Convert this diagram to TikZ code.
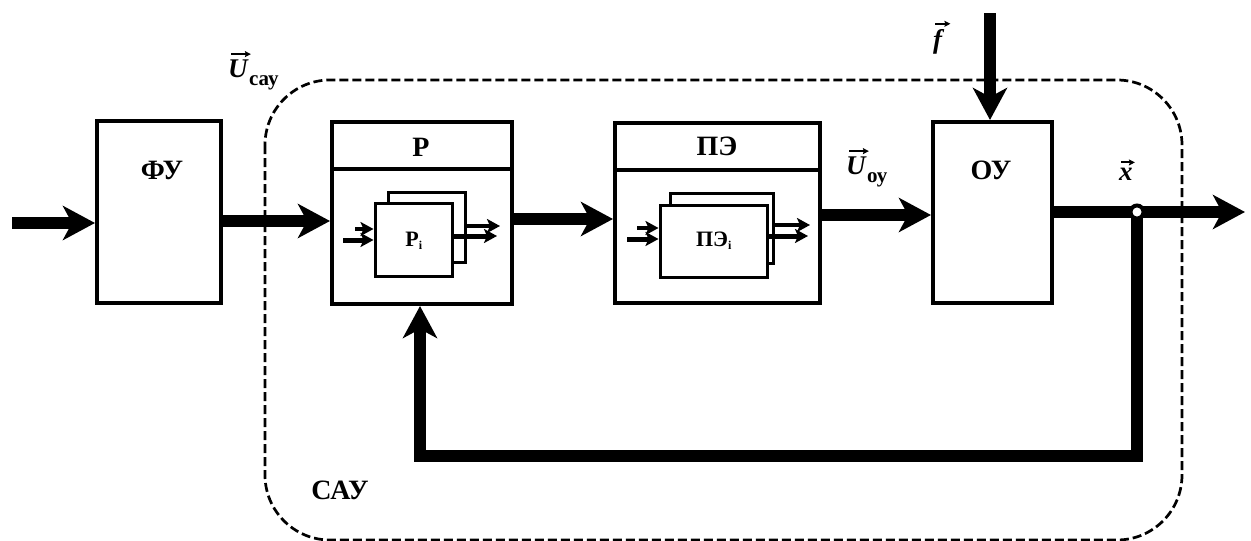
\documentclass[tikz,border=0pt]{standalone}
\usepackage{fontspec}
\setmainfont{Liberation Serif}
\usetikzlibrary{arrows.meta}
\begin{document}
\begin{tikzpicture}[x=1pt,y=-1pt,
  blk/.style={draw, line width=4pt, fill=white, inner sep=0pt},
  inblk/.style={draw, line width=3pt, fill=white, inner sep=0pt},
  thk/.style={line width=12pt, -{Stealth[length=32pt,width=34pt,inset=9pt]}},
  smarrow/.style={line width=5pt, -{Stealth[length=13pt,width=14pt,inset=3pt]}},
  vecarrow/.style={line width=2pt, -{Stealth[length=6pt,width=6pt,inset=1pt]}},
  frame/.style={line width=2.7pt, dash pattern=on 9pt off 4pt, rounded corners=65pt},
  lbl/.style={font=\fontsize{28}{30}\selectfont\bfseries, inner sep=0pt},
  slbl/.style={font=\fontsize{22}{24}\selectfont\bfseries, inner sep=0pt},
  vlbl/.style={font=\fontsize{27}{30}\selectfont\bfseries\itshape, inner sep=0pt},
  sublbl/.style={font=\fontsize{21}{23}\selectfont\bfseries, inner sep=0pt}]
\useasboundingbox (0,0) rectangle (1251,541);
% system boundary
\draw[frame] (265,80) rectangle (1182,540);
% blocks
\node[blk, minimum width=124pt, minimum height=182pt] (fu) at (159,212) {};
\node[blk, minimum width=180pt, minimum height=182pt] (r) at (422,213) {};
\node[blk, minimum width=205pt, minimum height=180pt] (pe) at (717.5,213) {};
\node[blk, minimum width=119pt, minimum height=181pt] (ou) at (992.5,212.5) {};
\draw[line width=4pt] (r.west |- 0,169) -- (r.east |- 0,169);
\draw[line width=4pt] (pe.west |- 0,170) -- (pe.east |- 0,170);
% inner blocks
\node[inblk, minimum width=77pt, minimum height=70pt] (riback) at (426.5,227) {};
\node[inblk, minimum width=77pt, minimum height=73pt] (ri) at (413.5,239.5) {};
\node[inblk, minimum width=103pt, minimum height=70pt] (peiback) at (721.5,228) {};
\node[inblk, minimum width=107pt, minimum height=72pt] (pei) at (713.5,241) {};
% small arrows
\coordinate (ria) at (343,240);
\coordinate (rib) at (355,229);
\draw[smarrow] (ria) -- (ri.west |- ria);
\draw[smarrow, line width=4pt] (rib) -- (ri.west |- rib);
\coordinate (rio) at (497,236);
\coordinate (riob) at (500,226);
\draw[smarrow] (ri.east |- rio) -- (rio);
\draw[smarrow, line width=4pt] (riback.east |- riob) -- (riob);
\coordinate (pea) at (627,239);
\coordinate (peb) at (637,228);
\draw[smarrow] (pea) -- (pei.west |- pea);
\draw[smarrow, line width=4pt] (peb) -- (pei.west |- peb);
\coordinate (peo) at (808,236);
\coordinate (peob) at (810,225);
\draw[smarrow] (pei.east |- peo) -- (peo);
\draw[smarrow, line width=4pt] (peiback.east |- peob) -- (peob);
% texts in blocks
\node[lbl] (tfu) at (162,170) {ФУ};
\node[lbl] (tr) at (421,147) {Р};
\node[lbl] (tpe) at (717,146) {ПЭ};
\node[lbl] (tou) at (991,170) {ОУ};
\node[slbl] (tri) at (414,241) {Р\textsubscript{\fontsize{12}{12}\selectfont i}};
\node[slbl] (tpei) at (714,241) {ПЭ\textsubscript{\fontsize{12}{12}\selectfont i}};
% main arrows
\coordinate (in) at (12,223);
\draw[thk] (in) -- (fu.west |- in);
\draw[thk] (fu.east |- 0,221) -- (r.west |- 0,221);
\draw[thk] (r.east |- 0,219) -- (pe.west |- 0,219);
\draw[thk] (pe.east |- 0,215) -- (ou.west |- 0,215);
\coordinate (ftop) at (990,13);
\draw[thk] (ftop) -- (ou.north -| ftop);
\coordinate (out) at (1245,212);
\coordinate (jc) at (1137,212);
\coordinate (fbc) at (420,456);
\draw[thk] (ou.east |- out) -- (out);
\draw[thk, line join=miter] (jc) |- (fbc) -- (r.south -| fbc);
\node[circle, draw, fill=white, line width=4pt, minimum size=13pt, inner sep=0pt] (jn) at (jc) {};
% vector labels
\node[vlbl, anchor=base west] (lu1) at (228,77) {U};
\node[sublbl, anchor=base west] (lu1s) at ([shift={(1,8)}]lu1.base east) {сау};
\draw[vecarrow] ([shift={(3,-5)}]lu1.north west) -- ([shift={(3,-5)}]lu1.north east);
\node[vlbl, anchor=base west] (lu2) at (846,174) {U};
\node[sublbl, anchor=base west] (lu2s) at ([shift={(1,8)}]lu2.base east) {оу};
\draw[vecarrow] ([shift={(3,-5)}]lu2.north west) -- ([shift={(3,-5)}]lu2.north east);
\node[vlbl, anchor=base west] (lf) at (933,48) {f};
\draw[vecarrow] ([shift={(2,-5)}]lf.north west) -- ([shift={(8,-5)}]lf.north east);
\node[vlbl, anchor=base west] (lx) at (1119,180) {x};
\draw[vecarrow] ([shift={(2,-5)}]lx.north west) -- ([shift={(2,-5)}]lx.north east);
\node[lbl] (lcau) at (340,490) {САУ};
\end{tikzpicture}
\end{document}
